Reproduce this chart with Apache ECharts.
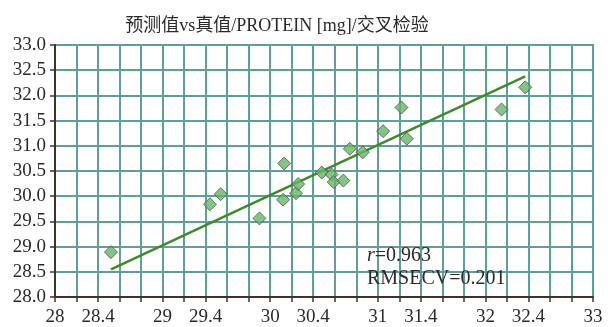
<!DOCTYPE html>
<html>
<head>
<meta charset="utf-8">
<script src="https://cdn.jsdelivr.net/npm/echarts@6/dist/echarts.min.js"></script>
<style>
  html, body { margin: 0; padding: 0; background: #fff; }
  #chart { width: 608px; height: 327px; }
</style>
</head>
<body>
<div id="chart"></div>
<script>
// Reference (true) values of PROTEIN [mg]
const trueValues = [
  28.52, 29.44, 29.54, 29.90, 30.12, 30.13, 30.24, 30.26, 30.48, 30.57,
  30.59, 30.68, 30.74, 30.86, 31.05, 31.22, 31.27, 32.15, 32.37
];
// Cross-validated predictions for the same samples
const predictedValues = [
  28.89, 29.84, 30.04, 29.56, 29.93, 30.65, 30.06, 30.24, 30.47, 30.43,
  30.28, 30.31, 30.94, 30.87, 31.29, 31.76, 31.14, 31.72, 32.16
];
// Fitted line: predicted = slope * true + intercept
const fitSlope = 0.995;
const fitIntercept = 0.17;
// Tick values that carry a label on the x axis
const xTickLabels = [28, 28.4, 29, 29.4, 30, 30.4, 31, 31.4, 32, 32.4, 33];
const statR = '0.963';
const statRMSECV = '0.201';

const points = trueValues.map((x, i) => [x, predictedValues[i]]);
const xMin = Math.min(...trueValues);
const xMax = Math.max(...trueValues);
const fitLine = [xMin, xMax].map(x => [x, fitSlope * x + fitIntercept]);

const serif = '"Liberation Serif", "Noto Sans CJK SC", serif';
const gridColor = '#5e9f98';

const chart = echarts.init(document.getElementById('chart'), null, { renderer: 'canvas' });
chart.setOption({
  animation: false,
  backgroundColor: '#ffffff',
  title: {
    text: '预测值vs真值/PROTEIN [mg]/交叉检验',
    left: 272,
    textAlign: 'center',
    top: 12,
    textStyle: { fontFamily: serif, fontSize: 18, fontWeight: 'normal', color: '#2a2a2a' }
  },
  grid: {
    left: 55, right: 15, top: 45, bottom: 30,
    show: true, borderColor: '#8d8580', borderWidth: 2, backgroundColor: 'transparent'
  },
  xAxis: {
    type: 'value',
    min: 28, max: 33, interval: 0.2,
    axisLine: { show: true, onZero: false, lineStyle: { color: '#3d3431', width: 2 } },
    axisTick: { show: true, length: 5, lineStyle: { color: '#3d3431', width: 1.5 } },
    splitLine: { show: true, lineStyle: { color: gridColor, width: 2 } },
    axisLabel: {
      fontFamily: serif, fontSize: 19, color: '#2a2a2a', margin: 11,
      showMinLabel: true, showMaxLabel: true,
      formatter: v => {
        const r = Math.round(v * 10) / 10;
        return xTickLabels.includes(r) ? String(r) : '';
      }
    }
  },
  yAxis: {
    type: 'value',
    min: 28, max: 33, interval: 0.5,
    axisLine: { show: true, onZero: false, lineStyle: { color: '#3d3431', width: 2 } },
    axisTick: { show: true, length: 5, lineStyle: { color: '#3d3431', width: 1.5 } },
    splitLine: { show: true, lineStyle: { color: gridColor, width: 2 } },
    axisLabel: {
      fontFamily: serif, fontSize: 19, color: '#2a2a2a', margin: 9,
      formatter: v => v.toFixed(1)
    }
  },
  series: [
    {
      type: 'line',
      data: fitLine,
      symbol: 'none',
      lineStyle: { color: '#3f8a2c', width: 2.5 },
      z: 3
    },
    {
      type: 'scatter',
      data: points,
      symbol: 'diamond',
      symbolSize: 13,
      itemStyle: { color: '#62b866', borderColor: '#5d4e4a', borderWidth: 1 },
      z: 4
    }
  ],
  graphic: [
    {
      type: 'text', left: 367, top: 246, z: 10,
      style: {
        text: '{i|r}=' + statR,
        font: '20px ' + serif,
        fill: '#2a2a2a',
        rich: { i: { fontFamily: serif, fontSize: 20, fontStyle: 'italic', fill: '#2a2a2a' } }
      }
    },
    {
      type: 'text', left: 367, top: 269, z: 10,
      style: { text: 'RMSECV=' + statRMSECV, font: '20px ' + serif, fill: '#2a2a2a' }
    }
  ]
});
</script>
</body>
</html>
